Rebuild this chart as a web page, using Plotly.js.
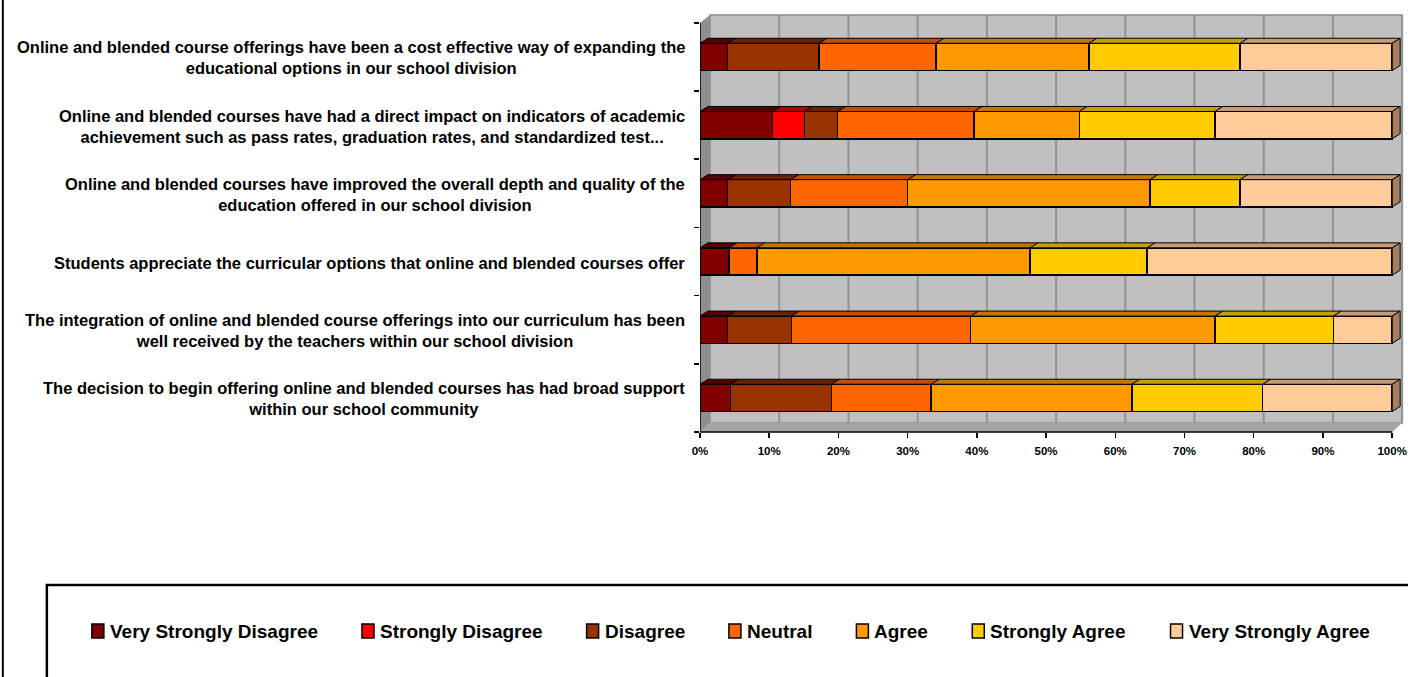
<!DOCTYPE html>
<html>
<head>
<meta charset="utf-8">
<script src="https://cdn.plot.ly/plotly-3.0.1.min.js"></script>
<style>html,body{margin:0;padding:0;background:#fff;}#chart{width:1408px;height:677px;}</style>
</head>
<body>
<div id="chart"></div>
<script>
// ---- data (bottom category first, as in the source chart) ----
const categories = [
  "The decision to begin offering online and blended courses has had broad support<br>within our school community",
  "The integration of online and blended course offerings into our curriculum has been<br>well received by the teachers within our school division",
  "Students appreciate the curricular options that online and blended courses offer",
  "Online and blended courses have improved the overall depth and quality of the<br>education offered in our school division",
  "Online and blended courses have had a direct impact on indicators of academic<br>achievement such as pass rates, graduation rates, and standardized test...",
  "Online and blended course offerings have been a cost effective way of expanding the<br>educational options in our school division"
];
const seriesNames = ["Very Strongly Disagree","Strongly Disagree","Disagree","Neutral","Agree","Strongly Agree","Very Strongly Agree"];
const veryStronglyDisagree = [4.4, 4.0, 4.2, 4.0, 10.5, 4.0];
const stronglyDisagree     = [0, 0, 0, 0, 4.6, 0];
const disagree             = [14.6, 9.2, 0, 9.1, 4.8, 13.2];
const neutral              = [14.4, 25.9, 4.0, 16.9, 19.7, 16.9];
const agree                = [29.0, 35.3, 39.5, 35.0, 15.2, 22.1];
const stronglyAgree        = [18.9, 17.1, 16.9, 13.0, 19.6, 21.8];
const veryStronglyAgree    = [18.7, 8.5, 35.4, 22.0, 25.6, 22.0];
const xTickValues = [0,10,20,30,40,50,60,70,80,90,100];

const series = [veryStronglyDisagree, stronglyDisagree, disagree, neutral, agree, stronglyAgree, veryStronglyAgree];

// ---- styles ----
const colors    = ["#800000","#FF0000","#993300","#FF6600","#FF9900","#FFCC00","#FFCC99"];
const topColors = ["#560000","#B00000","#6A2300","#C44E00","#C47600","#C4A000","#C89A76"];
const capColor  = "#A67F5F";
const FONT = "'Liberation Sans', Arial, sans-serif";
const LEG_SIZE = 19;

const W = 1408, H = 677;
const ml = 700, mt = 16, mb = 245, mr = 2.16;
const pw = W - ml - mr, ph = H - mt - mb;
const xMax = 102;
const px2x = p => (p - ml) / pw;
const py2y = p => (H - mb - p) / ph;
const unitPx = pw / xMax;
const catPx = ph / 6.1;
const barHalf = 0.2;
const bdx = 8 / unitPx, bdy = 5 / catPx;

const traces = series.map((vals, i) => ({
  type: 'bar', orientation: 'h', name: seriesNames[i],
  y: categories, x: vals, showlegend: false,
  marker: {color: colors[i], line: {color: '#000', width: 1.5}},
  hoverinfo: 'name+x'
}));

const shapes = [];
// back wall
shapes.push({type:'rect', xref:'paper', yref:'paper', x0:px2x(710), x1:px2x(1402), y0:py2y(423), y1:py2y(15),
  fillcolor:'#C0C0C0', line:{color:'#8C8C8C', width:1.5}, layer:'below'});
// left wall
shapes.push({type:'path', xref:'paper', yref:'paper', layer:'below',
  path:`M ${px2x(700)},${py2y(432)} L ${px2x(700)},${py2y(23)} L ${px2x(710)},${py2y(15)} L ${px2x(710)},${py2y(423)} Z`,
  fillcolor:'#8E8E8E', line:{width:0}});
// floor
shapes.push({type:'path', xref:'paper', yref:'paper', layer:'below',
  path:`M ${px2x(700)},${py2y(432)} L ${px2x(1392)},${py2y(432)} L ${px2x(1402)},${py2y(423)} L ${px2x(710)},${py2y(423)} Z`,
  fillcolor:'#A4A4A4', line:{width:0}});
// back-wall gridlines
xTickValues.forEach(v => {
  shapes.push({type:'line', xref:'x', xsizemode:'pixel', xanchor:v, x0:10, x1:10,
    yref:'paper', y0:py2y(423), y1:py2y(15), line:{color:'#939393', width:2}, layer:'below'});
});
// 3D top faces and end caps of the bars, derived from data
categories.forEach((c, j) => {
  let cum = 0;
  series.forEach((vals, i) => {
    const v = vals[j];
    const a = cum, b = cum + v;
    cum = b;
    if (v <= 0) return;
    const yt = j + barHalf;
    shapes.push({type:'path', xref:'x', yref:'y', layer:'above',
      path:`M ${a},${yt} L ${b},${yt} L ${b+bdx},${yt+bdy} L ${a+bdx},${yt+bdy} Z`,
      fillcolor: topColors[i], line:{color:'#000', width:1}});
  });
  shapes.push({type:'path', xref:'x', yref:'y', layer:'above',
    path:`M ${cum},${j-barHalf} L ${cum},${j+barHalf} L ${cum+bdx},${j+barHalf+bdy} L ${cum+bdx},${j-barHalf+bdy} Z`,
    fillcolor: capColor, line:{color:'#000', width:1}});
});
// axis lines
shapes.push({type:'line', xref:'x', yref:'y', x0:0, x1:0, y0:-0.5, y1:5.5, line:{color:'#000', width:1.5}});
shapes.push({type:'line', xref:'x', yref:'paper', x0:0, x1:100, y0:0, y1:0, line:{color:'#000', width:1.5}});
// outer frame line and legend box
shapes.push({type:'line', xref:'paper', yref:'paper', x0:px2x(3), x1:px2x(3), y0:py2y(-5), y1:py2y(700), line:{color:'#000', width:2}});
shapes.push({type:'rect', xref:'paper', yref:'paper', x0:px2x(47), x1:px2x(1430), y0:py2y(585), y1:py2y(720), line:{color:'#000', width:2.5}});

const annotations = categories.map((c, j) => ({
  xref:'paper', yref:'y', x:px2x(687), y:j, xanchor:'right', yanchor:'middle', align:'center',
  text:c, showarrow:false, yshift:-1,
  font:{family:FONT, size:16.5, color:'#000', weight:'bold'}
}));

// legend: square key + name for each series, laid out from measured text widths
const ctx = document.createElement('canvas').getContext('2d');
ctx.font = `bold ${LEG_SIZE}px 'Liberation Sans', Arial, sans-serif`;
let lx = 92;
const legY = 631;
seriesNames.forEach((name, i) => {
  shapes.push({type:'rect', xref:'paper', yref:'paper', x0:px2x(lx), x1:px2x(lx+12), y0:py2y(638), y1:py2y(624),
    fillcolor: colors[i], line:{color:'#000', width:1.5}});
  annotations.push({xref:'paper', yref:'paper', x:px2x(lx+16), y:py2y(legY), xanchor:'left', yanchor:'middle',
    text:name, showarrow:false, font:{family:FONT, size:LEG_SIZE, color:'#000', weight:'bold'}});
  const tw = ctx.measureText(name).width;
  lx = lx + 16 + tw + 46;
});

const layout = {
  width: W, height: H,
  margin: {l: ml, r: mr, t: mt, b: mb, pad: 0},
  paper_bgcolor: '#fff', plot_bgcolor: 'rgba(0,0,0,0)',
  barmode: 'stack', bargap: 0.6,
  showlegend: false,
  xaxis: {range:[0, xMax], tickvals: xTickValues, ticktext: xTickValues.map(v => v + '%'),
    showgrid:false, zeroline:false, showline:false,
    ticks:'outside', ticklen:5, tickwidth:1.5, tickcolor:'#000', ticklabelstandoff:3,
    tickfont:{family:FONT, size:11.5, color:'#000', weight:'bold'}, fixedrange:true},
  yaxis: {type:'category', categoryarray: categories, range:[-0.5, 5.6],
    showticklabels:false, showgrid:false, zeroline:false, showline:false,
    ticks:'outside', tickson:'boundaries', ticklen:5, tickwidth:1.5, tickcolor:'#000', fixedrange:true},
  shapes: shapes,
  annotations: annotations,
  font: {family: FONT}
};

Plotly.newPlot('chart', traces, layout, {displayModeBar:false, staticPlot:true});
</script>
</body>
</html>
